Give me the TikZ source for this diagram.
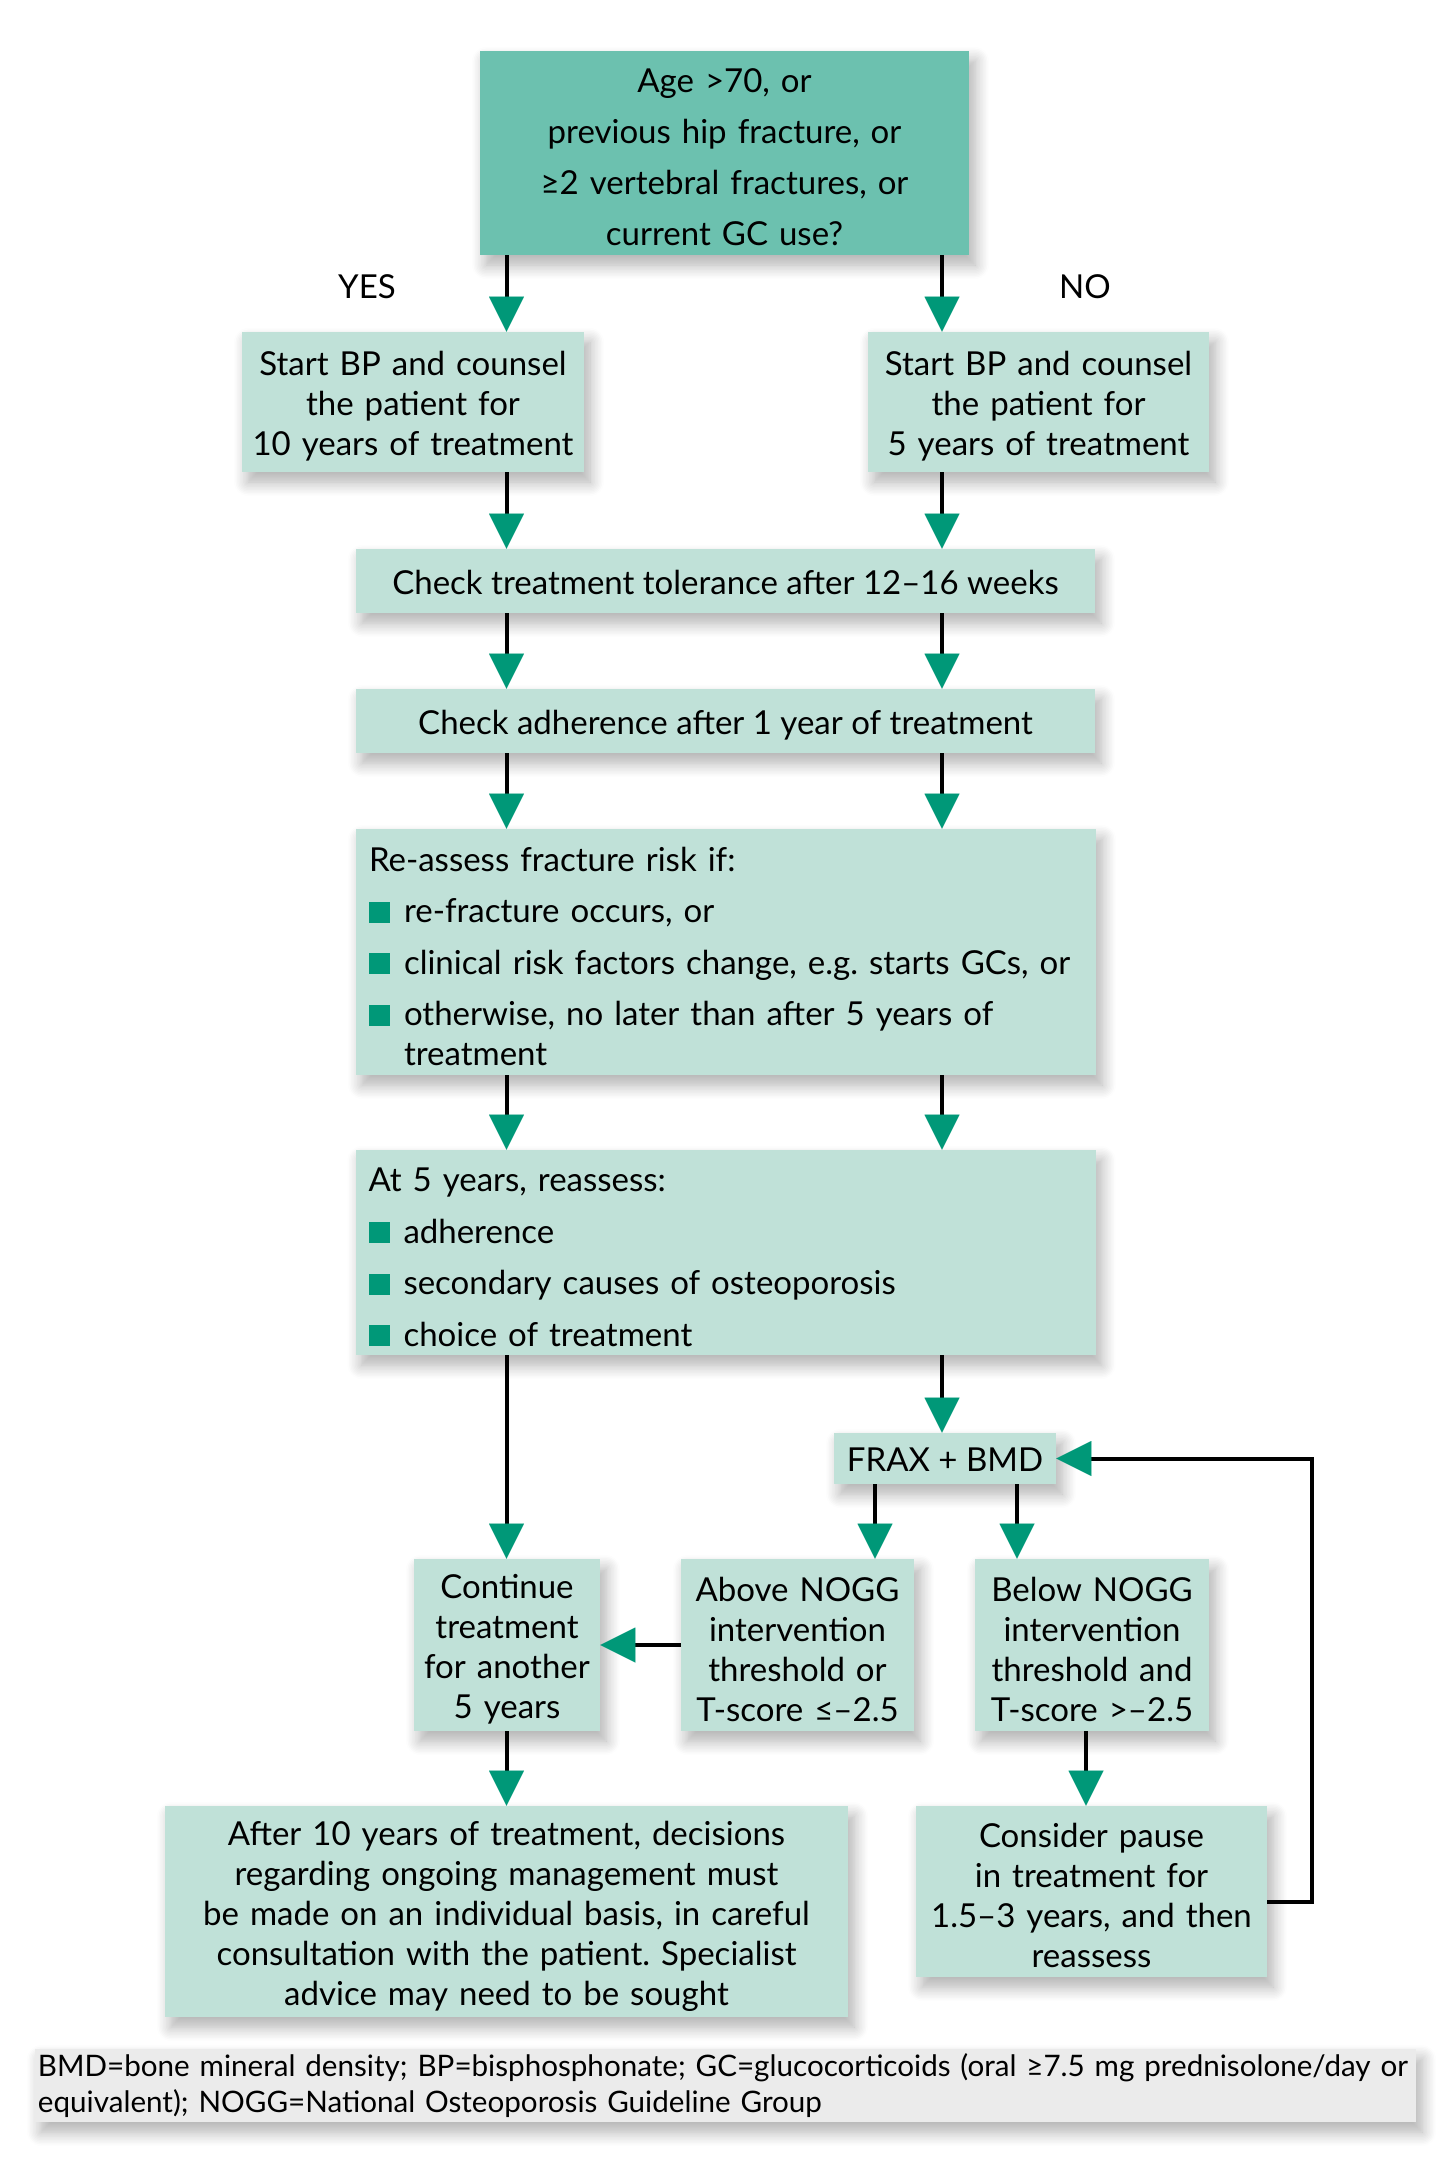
\documentclass[tikz,border=0pt]{standalone}
\usepackage{fontspec}
\setmainfont{Lato}
\usetikzlibrary{arrows.meta,shadows.blur,calc}
\definecolor{topg}{HTML}{6CC1AF}
\definecolor{boxg}{HTML}{C0E1D8}
\definecolor{arrg}{HTML}{009878}
\definecolor{footg}{HTML}{EBEBEB}
\newcommand{\bul}{\textcolor{arrg}{\rule{10.5pt}{10.5pt}}\hspace{7pt}}
\tikzset{
  shad/.style={blur shadow={shadow xshift=3pt, shadow yshift=-5pt, shadow blur radius=7pt, shadow blur steps=10, shadow opacity=32}},
  box/.style={fill=boxg, shad, inner sep=0pt, align=center, text height=16.5pt, font=\fontsize{16.5pt}{20pt}\selectfont},
  bw/.style={minimum width=#1, text width=#1},
  oneline/.style={text height=13pt, text depth=0pt},
  topbox/.style={box, fill=topg, font=\fontsize{16.5pt}{25.5pt}\selectfont},
  listbox/.style={box, align=left, inner xsep=6.5pt, text width=357pt},
  foot/.style={fill=footg, shad, inner xsep=1.5pt, inner ysep=0pt, align=left, text width=687.5pt, font=\fontsize{14.8pt}{18pt}\selectfont},
  lab/.style={font=\fontsize{16.5pt}{20pt}\selectfont, inner sep=0pt},
  arr/.style={line width=2pt, -{Triangle[length=17.5pt,width=17.5pt,line width=0.01pt,color=arrg]}}
}
\begin{document}
\frenchspacing
\begin{tikzpicture}[x=0.5pt,y=-0.5pt]
\useasboundingbox (0,0) rectangle (1453,2173);
\coordinate (colL) at (506.5,0);
\coordinate (colR) at (942,0);
\coordinate (fa) at (875,0);
\coordinate (fb) at (1017,0);
\coordinate (bp) at (1086,0);
\coordinate (loopc) at (1312,1902);

\node[topbox, bw=244.5pt, minimum height=102pt] (top) at (724.5,153)
  {Age >70, or\\ previous hip fracture, or\\ ≥2 vertebral fractures, or\\ current GC use?};
\node[lab] (yes) at (367,287) {YES};
\node[lab] (no) at (1085,287) {NO};
\node[box, bw=171pt, minimum height=70pt] (sbl) at (413,402)
  {Start BP and counsel\\ the patient for\\ 10 years of treatment};
\node[box, bw=170.5pt, minimum height=70pt] (sbr) at (1038.5,402)
  {Start BP and counsel\\ the patient for\\ 5 years of treatment};
\node[box, oneline, minimum width=369.5pt, minimum height=32pt] (tol) at (725.5,581)
  {Check treatment tolerance after 12–16 weeks};
\node[box, oneline, minimum width=369.5pt, minimum height=32pt] (adh) at (725.5,721)
  {Check adherence after 1 year of treatment};
\node[listbox, minimum height=123pt] (reas) at (726,952)
  {Re-assess fracture risk if:\\[5.75pt]
   \bul re-fracture occurs, or\\[5.75pt]
   \bul clinical risk factors change, e.g. starts GCs, or\\[5.75pt]
   \bul otherwise, no later than after 5 years of\\
   \hspace*{17.5pt}treatment};
\node[listbox, minimum height=102.5pt] (at5) at (725.5,1252.5)
  {At 5 years, reassess:\\[5.75pt]
   \bul adherence\\[5.75pt]
   \bul secondary causes of osteoporosis\\[5.75pt]
   \bul choice of treatment};
\node[box, oneline, minimum width=111pt, minimum height=25.5pt] (frax) at (945,1458.5) {FRAX + BMD};
\node[box, bw=93pt, minimum height=86pt] (cont) at (507,1645)
  {Continue\\ treatment\\ for another\\ 5 years};
\node[box, bw=116.5pt, minimum height=86pt] (above) at (797.5,1645)
  {Above NOGG\\ intervention\\ threshold or\\ T-score ≤–2.5};
\node[box, bw=117pt, minimum height=86pt] (below) at (1092,1645)
  {Below NOGG\\ intervention\\ threshold and\\ T-score >–2.5};
\node[box, bw=341.5pt, minimum height=105.5pt] (after) at (506.5,1911.5)
  {After 10 years of treatment, decisions\\ regarding ongoing management must\\ be made on an individual basis, in careful\\ consultation with the patient. Specialist\\ advice may need to be sought};
\node[box, bw=175.5pt, minimum height=85.5pt] (pause) at (1091.5,1891.5)
  {Consider pause\\ in treatment for\\ 1.5–3 years, and then\\ reassess};
\node[foot, minimum height=36.5pt] (foot) at (725.5,2085.5)
  {BMD=bone mineral density; BP=bisphosphonate; GC=glucocorticoids (oral ≥7.5 mg prednisolone/day or\\ equivalent); NOGG=National Osteoporosis Guideline Group};

\draw[arr] (top.south -| colL) -- (sbl.north -| colL);
\draw[arr] (top.south -| colR) -- (sbr.north -| colR);
\draw[arr] (sbl.south -| colL) -- (tol.north -| colL);
\draw[arr] (sbr.south -| colR) -- (tol.north -| colR);
\draw[arr] (tol.south -| colL) -- (adh.north -| colL);
\draw[arr] (tol.south -| colR) -- (adh.north -| colR);
\draw[arr] (adh.south -| colL) -- (reas.north -| colL);
\draw[arr] (adh.south -| colR) -- (reas.north -| colR);
\draw[arr] (reas.south -| colL) -- (at5.north -| colL);
\draw[arr] (reas.south -| colR) -- (at5.north -| colR);
\draw[arr] (at5.south -| colL) -- (cont.north -| colL);
\draw[arr] (at5.south -| colR) -- (frax.north -| colR);
\draw[arr] (frax.south -| fa) -- (above.north -| fa);
\draw[arr] (frax.south -| fb) -- (below.north -| fb);
\draw[arr] (above.west) -- (cont.east);
\draw[arr] (below.south -| bp) -- (pause.north -| bp);
\draw[arr] (cont.south -| colL) -- (after.north -| colL);
\draw[arr] (pause.east |- loopc) -- (loopc) |- (frax.east);
\end{tikzpicture}
\end{document}
